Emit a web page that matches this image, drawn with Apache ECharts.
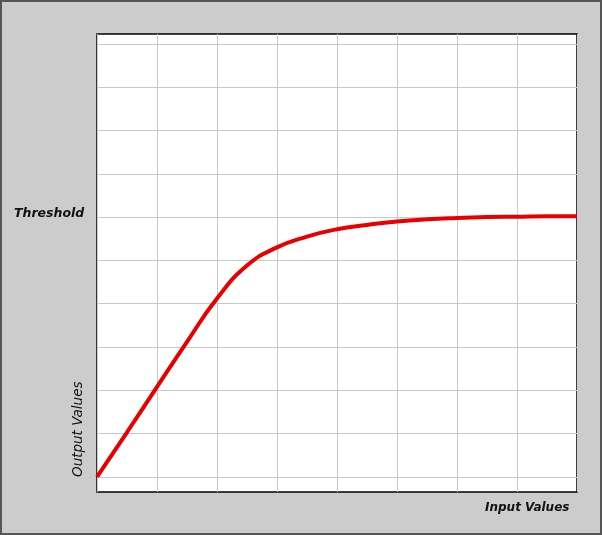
<!DOCTYPE html>
<html>
<head>
<meta charset="utf-8">
<script src="https://cdn.jsdelivr.net/npm/echarts@6/dist/echarts.min.js"></script>
<style>
html,body{margin:0;padding:0;background:#cccccc;}
#c{width:602px;height:535px;}
</style>
</head>
<body>
<div id="c"></div>
<script>
// Curve: input values vs output values
var inputValues  = [0, 0.5, 1, 1.5, 2, 2.5, 3, 3.5, 4, 4.5, 5, 5.5, 6, 6.5, 7, 7.5, 8];
var outputValues = [0, 1.03, 2.08, 3.12, 4.12, 4.88, 5.3, 5.55, 5.72, 5.82, 5.9, 5.95, 5.98, 6.0, 6.01, 6.02, 6.02];
var gridLevels = [0, 1, 2, 3, 4, 5, 6, 7, 8, 9, 10];
var labels = { threshold: 'Threshold', xName: 'Input Values', yName: 'Output Values' };

var chart = echarts.init(document.getElementById('c'), null, {renderer: 'canvas'});
var curve = inputValues.map(function (x, i) { return [x, outputValues[i]]; });

chart.setOption({
  animation: false,
  backgroundColor: '#cccccc',
  grid: {
    left: 97, top: 34, right: 25, bottom: 43,
    show: true, backgroundColor: '#ffffff', borderColor: '#000000', borderWidth: 1.5
  },
  xAxis: {
    type: 'value', min: 0, max: 8, interval: 1,
    axisLine: {show: false}, axisTick: {show: false}, axisLabel: {show: false},
    splitLine: {show: true, lineStyle: {color: '#c8c8c8', width: 1}}
  },
  yAxis: {
    type: 'value', min: -0.35, max: 10.23,
    axisLine: {show: false}, axisTick: {show: false}, axisLabel: {show: false},
    splitLine: {show: false}
  },
  graphic: [
    {type: 'rect', shape: {x: 1, y: 1, width: 600, height: 533},
     style: {fill: 'none', stroke: '#555555', lineWidth: 2}, silent: true, z: 100},
    {type: 'text', left: 14, top: 207,
     style: {text: labels.threshold, font: 'italic bold 12.5px "DejaVu Sans"', fill: '#111111'}},
    {type: 'text', left: 485, top: 502,
     style: {text: labels.xName, font: 'italic bold 12px "DejaVu Sans"', fill: '#111111'}},
    {type: 'text', x: 71, y: 477, rotation: Math.PI / 2,
     style: {text: labels.yName, font: 'italic 13.5px "DejaVu Sans"', fill: '#111111', align: 'left', verticalAlign: 'top'}}
  ],
  series: [
    {
      type: 'line', data: [], z: 1, silent: true,
      markLine: {
        silent: true, symbol: 'none', label: {show: false},
        lineStyle: {color: '#c8c8c8', width: 1, type: 'solid'},
        data: gridLevels.map(function (v) { return {yAxis: v}; })
      }
    },
    {
      type: 'line', data: curve, smooth: 0.5, showSymbol: false, z: 5,
      lineStyle: {color: '#e80000', width: 4}
    }
  ]
});
</script>
</body>
</html>
